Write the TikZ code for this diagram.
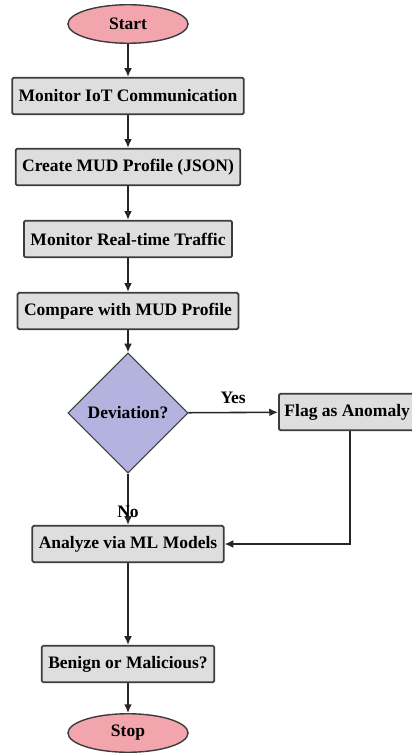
\documentclass[tikz,border=0pt]{standalone}
\usepackage{fontspec}
\setmainfont{Liberation Serif}
\usetikzlibrary{shapes.geometric,arrows.meta}
\definecolor{termfill}{RGB}{242,165,172}
\definecolor{decfill}{RGB}{180,178,222}
\definecolor{boxfill}{RGB}{222,222,222}
\definecolor{edgecol}{RGB}{60,60,60}
\begin{document}
\begin{tikzpicture}[x=0.5714pt,y=-0.5714pt,
  font=\bfseries,
  term/.style={ellipse, draw=edgecol, fill=termfill, line width=0.8pt,
    minimum width=68.6pt, minimum height=22pt, inner sep=0pt},
  proc/.style={rectangle, draw=edgecol, fill=boxfill, line width=1pt,
    minimum height=20.8pt, inner xsep=3.7pt, inner ysep=0pt, rounded corners=0.8pt},
  dec/.style={diamond, draw=edgecol, fill=decfill, line width=0.6pt,
    minimum width=68.6pt, minimum height=68.6pt, inner sep=0pt},
  flow/.style={-{Latex[length=5pt,width=4.5pt]}, line width=0.9pt, draw=black!85}]
\useasboundingbox (0,0) rectangle (411,754);
\node[term] (start) at (128,24) {Start};
\node[proc] (mon) at (128,96) {Monitor IoT Communication};
\node[proc] (mud) at (128,167) {Create MUD Profile (JSON)};
\node[proc] (rt) at (128,239) {Monitor Real-time Traffic};
\node[proc] (cmp) at (128,311) {Compare with MUD Profile};
\node[dec] (dev) at (128,413) {Deviation?};
\node[proc, anchor=west, inner xsep=3.2pt] (flag) at (278,412) {Flag as Anomaly};
\node[proc] (ana) at (128,544) {Analyze via ML Models};
\node[proc] (ben) at (128,664) {Benign or Malicious?};
\node[term] (stop) at (128,733) {Stop};
\coordinate (flagdown) at (350,431);
\draw[flow] (start) -- (mon);
\draw[flow] (mon) -- (mud);
\draw[flow] (mud) -- (rt);
\draw[flow] (rt) -- (cmp);
\draw[flow] (cmp) -- (dev);
\draw[flow] (dev) -- node[above=1pt] {Yes} (flag);
\draw[flow] (dev) -- node[pos=0.75] {No} (ana);
\draw[flow] (flagdown) |- (ana.east);
\draw[flow] (ana) -- (ben);
\draw[flow] (ben) -- (stop);
\end{tikzpicture}
\end{document}
